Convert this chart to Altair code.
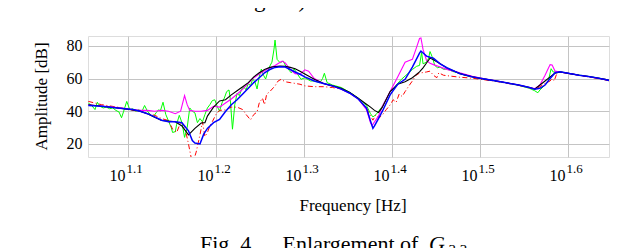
import altair as alt
import pandas as pd

# ---------------- data ----------------
tick_exp = [1.1, 1.2, 1.3, 1.4, 1.5, 1.6]
tick_text = ["1.1", "1.2", "1.3", "1.4", "1.5", "1.6"]
y_ticks = [20, 40, 60, 80]

green_f = [11.35, 11.45, 11.55, 11.62, 11.7, 11.8, 11.9, 12.0, 12.1, 12.2,
           12.3, 12.38, 12.45, 12.55, 12.65, 12.75, 12.85, 12.95, 13.05, 13.15,
           13.25, 13.35, 13.45, 13.55, 13.65, 13.7, 13.8, 13.9, 14.0, 14.1,
           14.15, 14.25, 14.3, 14.4, 14.5, 14.6, 14.7, 14.8, 14.9, 15.0,
           15.1, 15.2, 15.3, 15.4, 15.5, 15.6, 15.7, 15.8, 15.9, 16.0,
           16.1, 16.2, 16.3, 16.4, 16.45, 16.55, 16.65, 16.75, 16.85, 16.95,
           17.05, 17.15, 17.25, 17.35, 17.45, 17.55, 17.65, 17.75, 17.85, 17.95,
           18.05, 18.15, 18.25, 18.35, 18.45, 18.5, 18.6, 18.75, 18.9, 19.05,
           19.2, 19.3, 19.45, 19.6, 19.8, 20.0, 20.3, 20.5, 20.8, 20.95,
           21.05, 21.2, 21.5, 22.0, 22.5, 23.0, 23.5, 23.75, 23.9, 24.1,
           24.5, 25.0, 25.25, 25.5, 25.75, 26.0, 26.5, 26.8, 27.0, 27.15,
           27.25, 27.5, 27.65, 27.75, 27.9, 28.1, 28.3, 28.5, 28.75, 29.0,
           29.5, 30.0, 30.5, 31.0, 32.0, 33.0, 34.0, 35.0, 36.0, 36.5,
           36.8, 37.0, 37.5, 37.8, 38.1, 38.3, 38.6, 39.0, 40.0, 41.0,
           42.0, 43.0, 44.0, 45.0]
green_db = [45, 43.5, 41, 45.5, 43, 42, 42.5, 41.5, 42, 40.5,
            39.5, 36, 40, 46, 41, 41.5, 40, 41, 39.5, 43.5,
            40, 38, 36.5, 39, 41, 40, 45.5, 38, 34, 30,
            27, 27.5, 32, 37.5, 33, 24, 30, 42, 40, 39,
            33, 35.5, 33.5, 38, 42, 44, 46.5, 47, 43, 40,
            45, 48, 52, 53, 48, 29, 44, 51, 49.5, 53.5,
            55, 53, 57, 55.5, 59.7, 58, 53.6, 61, 65.8, 62,
            59.7, 64, 67.6, 70, 78, 83.5, 71.7, 69.6, 70.7, 67,
            65, 63.5, 65.8, 63, 59.5, 60.5, 58.5, 58.5, 57.4, 60,
            63.2, 57.5, 56, 54.5, 51.5, 48, 43.5, 38.5, 36.5, 38,
            43, 52, 54, 57, 59.5, 61.5, 65.5, 67.5, 68, 76,
            69, 70, 72.5, 76.5, 73.5, 68, 66.6, 67, 65.6, 65.8,
            64.2, 63.2, 61.8, 61.2, 59.8, 58.5, 57.2, 55.8, 54, 52.5,
            51.3, 53, 56, 58, 66, 64, 64, 64.2, 63, 62.1,
            61.3, 60.4, 59.4, 58]

red_f = [11.35, 11.75, 12.25, 12.75, 13.0, 13.25, 13.5, 13.75, 14.0, 14.15,
         14.3, 14.45, 14.6, 14.75, 14.85, 14.95, 15.05, 15.2, 15.3, 15.4,
         15.5, 15.6, 15.7, 15.85, 16.0, 16.25, 16.5, 16.75, 17.0, 17.15,
         17.35, 17.5, 17.65, 17.75, 17.9, 18.0, 18.1, 18.25, 18.5, 18.65,
         18.8, 19.0, 19.25, 19.5, 19.75, 20.0, 20.5, 21.0, 21.5, 22.0,
         22.5, 23.0, 23.5, 23.75, 23.9, 24.1, 24.3, 24.5, 24.75, 25.0,
         25.2, 25.4, 25.6, 25.8, 26.0, 26.3, 26.5, 26.75, 27.0, 27.5,
         27.75, 28.0, 28.25, 28.4, 28.75, 29.25, 30.0, 31.0, 32.0, 33.0,
         34.0, 35.0, 36.0, 36.5, 37.0, 37.5, 38.0, 38.2, 38.4, 38.7,
         39.0, 40.0, 41.0, 42.0, 43.0, 44.0, 45.0]
red_db = [46, 44, 42.5, 40.5, 40, 38.5, 37.5, 35.5, 34.3, 29,
          27, 33, 31, 20, 12, 10, 15, 25.5, 33.5, 24.5,
          27, 31, 33.6, 38, 40.5, 40.8, 42.5, 42.5, 41, 38,
          34.7, 38, 39.5, 45, 48, 44, 50.5, 52, 55.5, 58.5,
          59.5, 58, 57.5, 57, 56.5, 55.5, 55, 55, 54.5, 53.5,
          51, 47.5, 42, 37, 34.5, 38, 36, 37.7, 41, 43.8,
          47, 45.5, 50.5, 49, 52, 56, 58.5, 62, 63.3, 64,
          64.5, 62, 60.5, 63.5, 62, 61.5, 60.8, 60.2, 59.2, 58.2,
          57, 55.8, 54.3, 53.5, 55, 57, 58.5, 60, 58.5, 63.5,
          64, 63, 62, 61, 60, 59, 58]

magenta_f = [11.35, 11.75, 12.25, 12.75, 13.0, 13.25, 13.5, 13.75, 14.0, 14.25,
             14.45, 14.6, 14.7, 14.8, 15.0, 15.25, 15.5, 15.75, 16.0, 16.25,
             16.5, 16.75, 17.0, 17.25, 17.5, 17.75, 18.0, 18.25, 18.5, 18.75,
             18.85, 19.0, 19.25, 19.5, 19.75, 20.0, 20.2, 20.5, 21.0, 21.5,
             22.0, 22.5, 23.0, 23.5, 23.75, 23.85, 24.0, 24.25, 24.5, 25.0,
             25.5, 26.0, 26.2, 26.5, 26.75, 27.0, 27.1, 27.25, 27.5, 27.75,
             28.0, 28.5, 29.0, 30.0, 31.0, 32.0, 33.0, 34.0, 35.0, 36.0,
             36.5, 37.0, 37.5, 37.8, 38.0, 38.2, 38.5, 39.0, 40.0, 41.0,
             42.0, 43.0, 44.0, 45.0]
magenta_db = [44, 43.2, 42.2, 41, 40.5, 40.5, 40, 40.5, 40, 38.5,
              40, 49.5, 44, 40.5, 40, 40, 40.5, 43, 42.5, 45,
              47.5, 50.4, 53.5, 57, 60.5, 62.8, 64.8, 66.5, 68, 70,
              70.7, 69.5, 65.5, 63, 62.6, 65.3, 64.5, 60, 57, 55.5,
              53.5, 51, 47.5, 41, 33, 31.3, 33.5, 37, 43, 52,
              61, 70, 70.7, 71.7, 78, 84.5, 84.8, 77.8, 71, 69.3,
              68.5, 67, 65.6, 63.5, 61.3, 59.8, 58.6, 57.3, 56, 54.5,
              53.8, 56, 62, 66, 68.5, 68.3, 64.5, 64, 63, 62,
              61.2, 60.3, 59.3, 58]

black_f = [11.35, 11.75, 12.25, 12.75, 13.0, 13.25, 13.5, 13.75, 14.0, 14.25,
           14.5, 14.75, 15.0, 15.25, 15.4, 15.5, 15.75, 16.0, 16.25, 16.5,
           16.75, 17.0, 17.25, 17.5, 17.75, 18.0, 18.25, 18.5, 18.75, 19.0,
           19.25, 19.5, 19.75, 20.0, 20.5, 21.0, 21.5, 22.0, 22.5, 23.0,
           23.5, 23.75, 24.0, 24.25, 24.5, 25.0, 25.5, 26.0, 26.5, 27.0,
           27.25, 27.5, 27.75, 28.0, 28.5, 29.0, 30.0, 31.0, 32.0, 33.0,
           34.0, 35.0, 36.0, 36.5, 37.0, 37.5, 38.0, 38.5, 39.0, 40.0,
           41.0, 42.0, 43.0, 44.0, 45.0]
black_db = [44, 43, 42, 40.8, 40, 38.5, 36.3, 34.3, 34, 33.6,
            31, 25.5, 29.5, 32.8, 33, 37, 42.5, 46.3, 47, 50,
            52.5, 55, 57.5, 61, 63.5, 65.5, 66.8, 67.3, 67.6, 67.4,
            66.8, 66, 64.5, 62.8, 59.5, 57, 55.5, 54, 51.5, 48,
            44.3, 42.5, 40.5, 39.2, 42.5, 52, 56.5, 58, 60.5, 64,
            66.5, 69.5, 72.5, 71.5, 69, 66.5, 63, 61, 59.6, 58.5,
            57.3, 56, 54.5, 53.5, 56, 58.5, 61, 63.3, 64, 63,
            62, 61.2, 60.3, 59.3, 58]

blue_f = [11.35, 11.75, 12.25, 12.75, 13.0, 13.25, 13.5, 13.75, 14.0, 14.25,
          14.5, 14.75, 14.9, 15.0, 15.2, 15.35, 15.5, 15.75, 16.0, 16.25,
          16.5, 16.75, 17.0, 17.25, 17.5, 17.75, 18.0, 18.25, 18.5, 18.75,
          19.0, 19.25, 19.5, 19.75, 20.0, 20.5, 21.0, 21.5, 22.0, 22.5,
          23.0, 23.5, 23.75, 23.9, 24.0, 24.25, 24.5, 25.0, 25.5, 26.0,
          26.5, 27.0, 27.1, 27.5, 27.75, 28.0, 28.5, 29.0, 30.0, 31.0,
          32.0, 33.0, 34.0, 35.0, 36.0, 36.5, 37.0, 37.5, 38.0, 38.5,
          39.0, 40.0, 41.0, 42.0, 43.0, 44.0, 45.0]
blue_db = [43.5, 43, 42, 41, 40, 38.5, 36.5, 34.5, 33.5, 33.6,
           33, 28, 22, 20.5, 20, 26, 29.5, 33, 35, 39.8,
           44, 47, 50.5, 54, 57.5, 60.5, 63.5, 65.5, 66.8, 67.2,
           67, 65.5, 64, 62.6, 61, 58.5, 57, 55.5, 53.5, 51,
           47.5, 42, 34, 29.5, 31, 35.5, 40, 50, 56.5, 59.5,
           67, 75.5, 76.8, 73.7, 73, 72.5, 69, 66.6, 63, 61,
           59.7, 58.5, 57.2, 56, 54.5, 53.5, 54, 56, 60, 63.5,
           64.2, 63, 62, 61.2, 60.3, 59.3, 58]

# ---------------- build tables ----------------
series = [
    ("green", green_f, green_db, "#00ff00", 1.0, None),
    ("red", red_f, red_db, "#ff0000", 1.0, [5, 2.5, 1, 2.5]),
    ("magenta", magenta_f, magenta_db, "#ff00ff", 1.1, None),
    ("black", black_f, black_db, "#000000", 1.1, None),
    ("blue", blue_f, blue_db, "#0000ff", 1.5, None),
]

W, H = 521, 121
FONT = "Liberation Serif"

# same pixels-per-decade as the reference; the page width limits the right end
xscale = alt.Scale(type="log", domain=[11.34, 44.33], nice=False)
yscale = alt.Scale(domain=[12, 86], nice=False, zero=False)
tick_f = [10 ** e for e in tick_exp]

xaxis = alt.Axis(values=tick_f, grid=True, labels=False, ticks=False, domain=False,
                 title=None, gridColor="#c4c4c4", gridWidth=1, gridOpacity=1)
yaxis = alt.Axis(values=y_ticks, grid=True, ticks=False, tickSize=0, domain=False,
                 title=None, gridColor="#c4c4c4", gridWidth=1, gridOpacity=1,
                 labelFont=FONT, labelFontSize=16, labelColor="black", labelPadding=6)

layers = []
for name, fs, ds, col, sw, dash in series:
    assert len(fs) == len(ds), name
    d = pd.DataFrame({"f": fs, "db": ds, "i": list(range(len(fs)))})
    mk = dict(color=col, strokeWidth=sw, clip=True)
    if dash:
        mk["strokeDash"] = dash
    layers.append(
        alt.Chart(d).mark_line(**mk).encode(
            x=alt.X("f:Q", scale=xscale, axis=xaxis),
            y=alt.Y("db:Q", scale=yscale, axis=yaxis),
            order="i:Q",
        )
    )

ticks_df = pd.DataFrame({"f": tick_f, "base": ["10"] * len(tick_f), "sup": tick_text})
base_lbl = alt.Chart(ticks_df).mark_text(
    font=FONT, fontSize=16, align="right", baseline="alphabetic", dx=-2.5, color="black"
).encode(x=alt.X("f:Q", scale=xscale, axis=xaxis), y=alt.value(H + 23.7), text="base:N")
sup_lbl = alt.Chart(ticks_df).mark_text(
    font=FONT, fontSize=13, align="left", baseline="alphabetic", dx=-1.5, color="black"
).encode(x=alt.X("f:Q", scale=xscale, axis=xaxis), y=alt.value(H + 16), text="sup:N")


def txt(s, x, y, size, align="center", style="normal"):
    kw = dict(font=FONT, fontSize=size, align=align, baseline="alphabetic",
              color="black", fontStyle=style)
    return alt.Chart(pd.DataFrame({"t": [s]})).mark_text(**kw).encode(
        text="t:N", x=alt.value(x), y=alt.value(y))


ytitle = alt.Chart(pd.DataFrame({"t": ["Amplitude [dB]"]})).mark_text(
    font=FONT, fontSize=17, align="center", baseline="middle", angle=270, color="black"
).encode(text="t:N", x=alt.value(-46.3), y=alt.value(H / 2))
xtitle = txt("Frequency [Hz]", 265, H + 53.5, 17)
body = txt("indicated as indices in the legend).", 224, -28.7, 23, align="right")
cap1 = txt("Fig. 4.", 112, 214.6, 22, align="left")
cap2 = txt("Enlargement of", 194.6, 214.6, 22, align="left")
cap3 = txt("G", 341, 214.6, 22, align="left", style="italic")
cap4 = txt("3,3", 360.6, 218.6, 15, align="left")

chart = alt.layer(
    *layers, base_lbl, sup_lbl, ytitle, xtitle, body, cap1, cap2, cap3, cap4
).properties(
    width=W, height=H,
    autosize=alt.AutoSizeParams(type="none"),
    padding={"left": 80, "top": 28, "right": 1, "bottom": 91},
).configure_view(
    stroke="black", strokeWidth=1
).configure(background="white")

chart.save("out.html", embed_options={"renderer": "svg", "actions": False})
